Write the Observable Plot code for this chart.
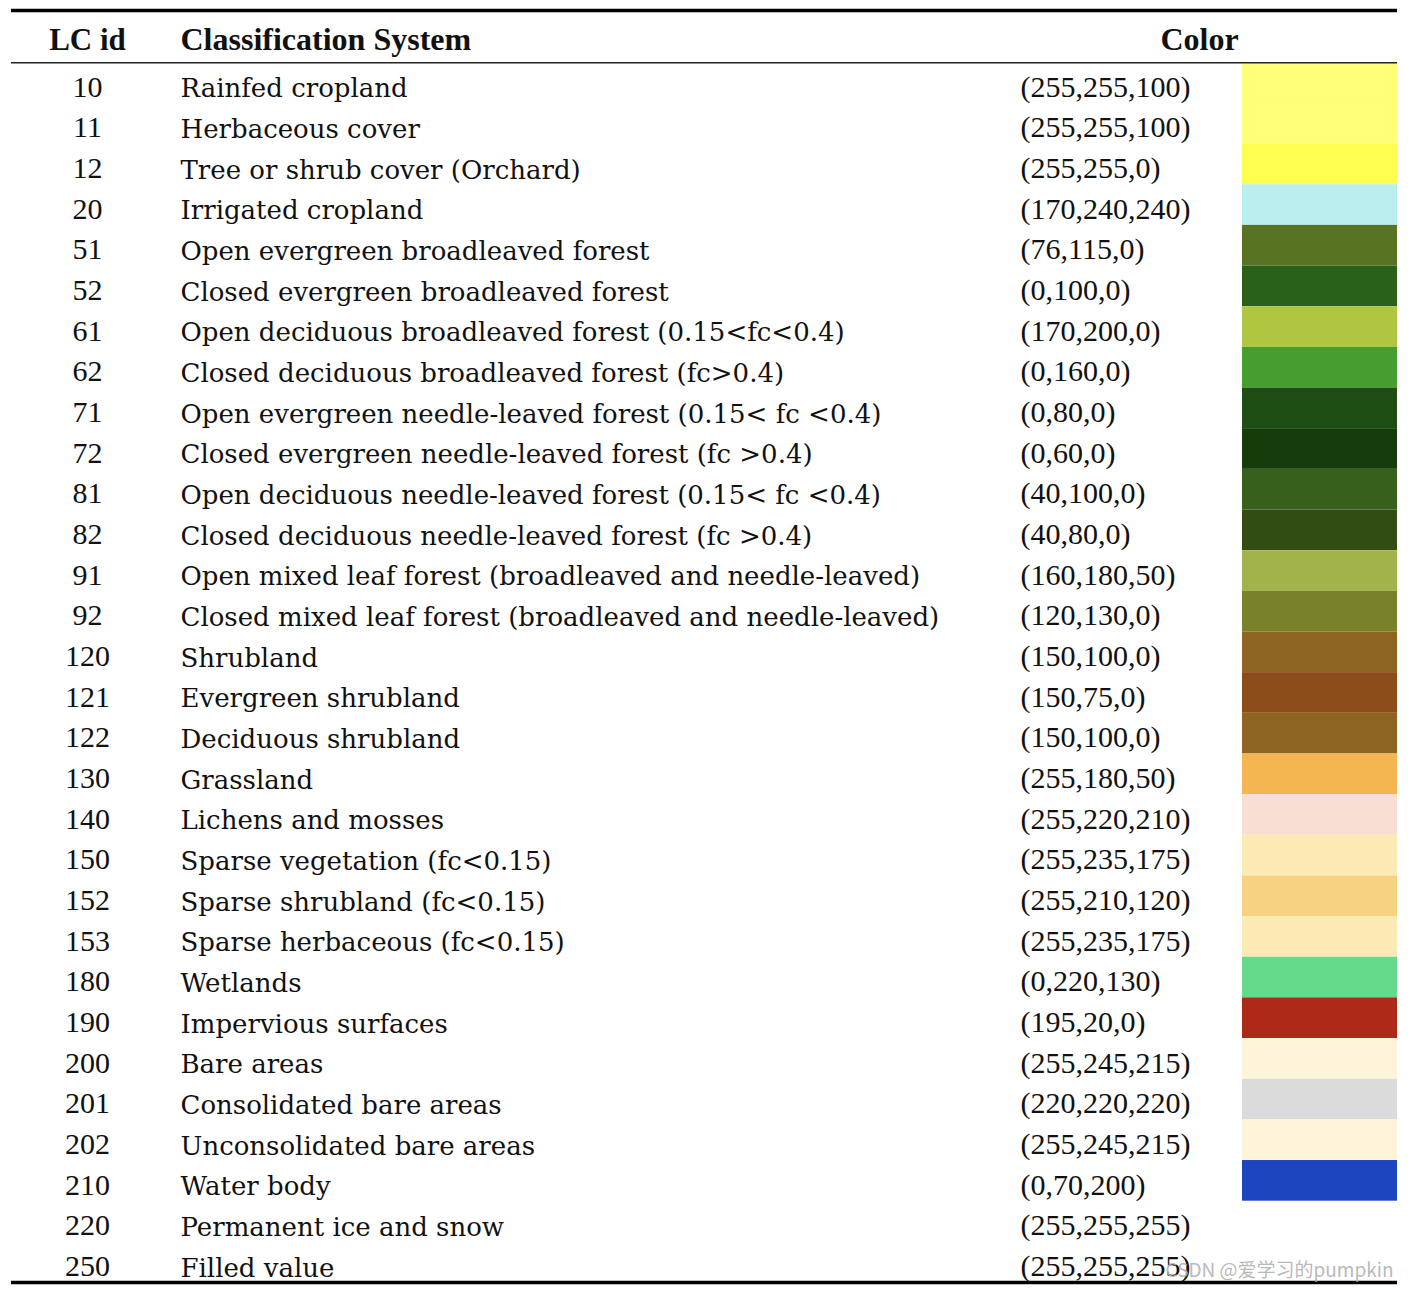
<!DOCTYPE html>
<html>
<head>
<meta charset="utf-8">
<script src="https://cdn.jsdelivr.net/npm/d3@7"></script>
<script src="https://cdn.jsdelivr.net/npm/@observablehq/plot@0.6"></script>
<style>
  html, body { margin: 0; padding: 0; background: #fff; }
  #chart svg { display: block; }
</style>
</head>
<body>
<div id="chart"></div>
<script>
// ---- data ----
const lcIds = ["10","11","12","20","51","52","61","62","71","72","81","82","91","92","120","121","122","130","140","150","152","153","180","190","200","201","202","210","220","250"];
const classNames = [
  "Rainfed cropland",
  "Herbaceous cover",
  "Tree or shrub cover (Orchard)",
  "Irrigated cropland",
  "Open evergreen broadleaved forest",
  "Closed evergreen broadleaved forest",
  "Open deciduous broadleaved forest (0.15<fc<0.4)",
  "Closed deciduous broadleaved forest (fc>0.4)",
  "Open evergreen needle-leaved forest (0.15< fc <0.4)",
  "Closed evergreen needle-leaved forest (fc >0.4)",
  "Open deciduous needle-leaved forest (0.15< fc <0.4)",
  "Closed deciduous needle-leaved forest (fc >0.4)",
  "Open mixed leaf forest (broadleaved and needle-leaved)",
  "Closed mixed leaf forest (broadleaved and needle-leaved)",
  "Shrubland",
  "Evergreen shrubland",
  "Deciduous shrubland",
  "Grassland",
  "Lichens and mosses",
  "Sparse vegetation (fc<0.15)",
  "Sparse shrubland (fc<0.15)",
  "Sparse herbaceous (fc<0.15)",
  "Wetlands",
  "Impervious surfaces",
  "Bare areas",
  "Consolidated bare areas",
  "Unconsolidated bare areas",
  "Water body",
  "Permanent ice and snow",
  "Filled value"
];
const rgbLabels = ["(255,255,100)","(255,255,100)","(255,255,0)","(170,240,240)","(76,115,0)","(0,100,0)","(170,200,0)","(0,160,0)","(0,80,0)","(0,60,0)","(40,100,0)","(40,80,0)","(160,180,50)","(120,130,0)","(150,100,0)","(150,75,0)","(150,100,0)","(255,180,50)","(255,220,210)","(255,235,175)","(255,210,120)","(255,235,175)","(0,220,130)","(195,20,0)","(255,245,215)","(220,220,220)","(255,245,215)","(0,70,200)","(255,255,255)","(255,255,255)"];
// swatch colours as they appear in the picture
const swatchFills = ["#ffff78","#ffff78","#ffff50","#bbeeee","#587322","#2a611a","#b0c640","#479e2e","#1f4e14","#163c0c","#37601c","#314d14","#a3b34b","#798228","#8d6521","#8c4d1b","#8d6521","#f3b651","#f9ded4","#fbeab4","#f8d283","#fbeab4","#65da8b","#ad2a18","#fef4da","#dbdbdb","#fef4da","#1c45bf",null,null];
const headers = ["LC id","Classification System","Color"];
const watermark = "CSDN @爱学习的pumpkin";

const rows = lcIds.map((id, i) => ({row: i, id, name: classNames[i], rgb: rgbLabels[i], fill: swatchFills[i]}));

// ---- layout (pixels / row units) ----
const W = 1408, H = 1290;
const headerRows = 54 / 42;          // header height expressed in row units
const colId = 87, colName = 180, colRgb = 1020, colColor = 1199;
const swX1 = 1242, swX2 = 1397, lineX1 = 11, lineX2 = 1397;
const serif = "'Liberation Serif', serif";
const wideSerif = "'DejaVu Serif', serif";
const textDy = 0.6;                  // vertical text position within a row (row units)

const chart = Plot.plot({
  width: W,
  height: H,
  margin: 0,
  x: {type: "linear", domain: [0, W], range: [0, W], axis: null},
  y: {type: "linear", domain: [-headerRows, rows.length], range: [10, 1282], axis: null},
  color: {type: "identity"},
  style: {fontFamily: serif, background: "#fff"},
  marks: [
    // swatches
    Plot.rect(rows.filter(d => d.fill), {
      x1: () => swX1, x2: () => swX2,
      y1: d => d.row, y2: d => d.row + 1,
      fill: "fill"
    }),
    // rules
    Plot.ruleY([-headerRows], {x1: lineX1, x2: lineX2, stroke: "#000", strokeWidth: 3.5}),
    Plot.ruleY([0], {x1: lineX1, x2: lineX2, stroke: "#222", strokeWidth: 1.5}),
    Plot.ruleY([rows.length], {x1: lineX1, x2: lineX2, stroke: "#000", strokeWidth: 3.5}),
    // header
    Plot.text([headers[0]], {x: () => colId, y: () => -headerRows / 2 + 0.08, text: d => d, textAnchor: "middle", fontWeight: "bold", fontSize: 31, fill: "#111"}),
    Plot.text([headers[1]], {x: () => colName, y: () => -headerRows / 2 + 0.08, text: d => d, textAnchor: "start", fontWeight: "bold", fontSize: 32, fill: "#111"}),
    Plot.text([headers[2]], {x: () => colColor, y: () => -headerRows / 2 + 0.08, text: d => d, textAnchor: "middle", fontWeight: "bold", fontSize: 32, fill: "#111"}),
    // body
    Plot.text(rows, {x: () => colId, y: d => d.row + textDy, text: "id", textAnchor: "middle", fontSize: 30, fill: "#111"}),
    Plot.text(rows, {x: () => colName, y: d => d.row + textDy, dy: 2, text: "name", textAnchor: "start", fontSize: 26, fontFamily: wideSerif, fill: "#111"}),
    Plot.text(rows, {x: () => colRgb, y: d => d.row + textDy, text: "rgb", textAnchor: "start", fontSize: 30, fill: "#111"}),
    // watermark
    Plot.text([watermark], {x: () => 1393, y: () => rows.length - 0.28, text: d => d, textAnchor: "end", fontSize: 19, fontFamily: "'Noto Sans CJK SC', 'Noto Sans', sans-serif", fill: "#b0b0b0", fillOpacity: 0.9})
  ]
});
document.getElementById("chart").appendChild(chart);
</script>
</body>
</html>
